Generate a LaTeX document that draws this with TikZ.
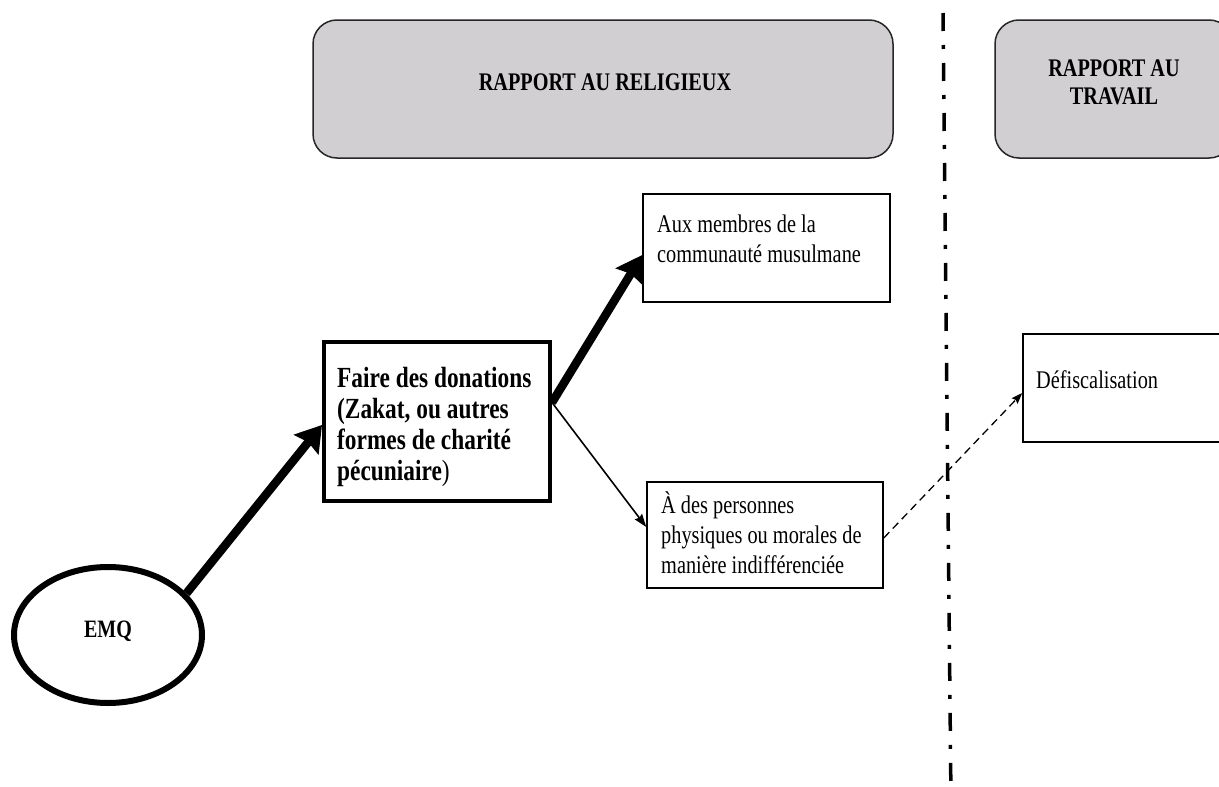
\documentclass[tikz,border=0pt]{standalone}
\usepackage{fontspec}
\setmainfont{Liberation Serif}
\usepackage{graphicx}
\usetikzlibrary{arrows.meta,shapes.geometric,calc}
\definecolor{headgray}{RGB}{209,207,210}
% slightly condensed setting of the text
\newcommand\cnd[1]{\scalebox{0.8}[1]{#1}}
\newcommand\lines[1]{\cnd{\begin{tabular}[t]{@{}l@{}}#1\end{tabular}}}
\newcommand\clines[1]{\cnd{\begin{tabular}[t]{@{}c@{}}#1\end{tabular}}}

\begin{document}
\begin{tikzpicture}[x=1pt,y=-1pt,
  header/.style={draw=black!85, line width=1.5pt, fill=headgray, rounded corners=24pt, inner sep=0pt},
  plainbox/.style={draw, line width=1.5pt, fill=white, inner sep=0pt},
  boldbox/.style={draw, line width=4pt, fill=white, inner sep=0pt},
  txt/.style={inner sep=0pt, anchor=base west, font=\fontsize{25.4}{30}\selectfont},
  boldtxt/.style={inner sep=0pt, anchor=base west, font=\fontsize{29.2}{31}\selectfont\bfseries},
  headtxt/.style={inner sep=0pt, anchor=base, font=\fontsize{25.3}{28}\selectfont\bfseries},
  thickarrow/.style={line width=8.5pt, -{Stealth[length=25pt,width=31pt,inset=3pt]}},
  thinarrow/.style={line width=1.6pt, -{Stealth[length=13pt,width=9pt,inset=1.5pt]}},
  dasharrow/.style={line width=1.3pt, dash pattern=on 8pt off 5pt, -{Stealth[length=11pt,width=8pt,inset=1.5pt]}},
  divider/.style={line width=3.5pt, dash pattern=on 18pt off 14pt on 4pt off 14pt}
]
\fill[white] (0,0) rectangle (1219,787);
\clip (0,0) rectangle (1219,787);

% column headers
\node[header, minimum width=580pt, minimum height=138pt] (relig) at (603,89) {};
\node[headtxt] (religtxt) at (605,90) {\cnd{RAPPORT AU RELIGIEUX}};
\node[header, minimum width=238pt, minimum height=138pt] (trav) at (1114,89) {};
\node[headtxt] (travtxt) at (1114,76) {\clines{RAPPORT AU\\TRAVAIL}};

% separator between the two columns
\draw[divider] (943,13) coordinate (divtop) -- (951,800) coordinate (divbot);

% actor
\node[ellipse, draw, line width=6pt, fill=white, minimum width=188pt, minimum height=136pt, inner sep=0pt] (emq) at (108,635) {};
\node[inner sep=0pt, anchor=base, font=\fontsize{25}{28}\selectfont\bfseries] (emqtxt) at (108,637) {\cnd{EMQ}};

% central practice
\node[boldbox, minimum width=226pt, minimum height=159pt] (faire) at (437,421.5) {};
\node[boldtxt] (fairetxt) at (337,387) {\lines{Faire des donations\\(Zakat, ou autres\\formes de charité\\pécuniaire{\mdseries )}}};

% recipients
\node[plainbox, minimum width=247pt, minimum height=108pt] (aux) at (766.5,248) {};
\node[txt] (auxtxt) at (657,232) {\lines{Aux membres de la\\communauté musulmane}};

\node[plainbox, minimum width=236pt, minimum height=106pt] (pers) at (765,535) {};
\node[txt] (perstxt) at (661,513) {\lines{À des personnes\\physiques ou morales de\\manière indifférenciée}};

% work-related outcome
\node[plainbox, minimum width=217pt, minimum height=108pt] (defisc) at (1131.5,388) {};
\node[txt] (defisctxt) at (1036,388) {\cnd{Défiscalisation}};

% connectors
\coordinate (fork) at ([yshift=19pt]faire.east);
\draw[thickarrow] (emq.28) -- ([yshift=-3.5pt]faire.west);
\draw[thickarrow] (fork) -- ([yshift=-7pt]aux.west);
\draw[thinarrow] (fork) -- ([yshift=8pt]pers.west);
\draw[dasharrow] ([yshift=-3pt]pers.east) -- ([yshift=-5pt]defisc.west);
\end{tikzpicture}
\end{document}
